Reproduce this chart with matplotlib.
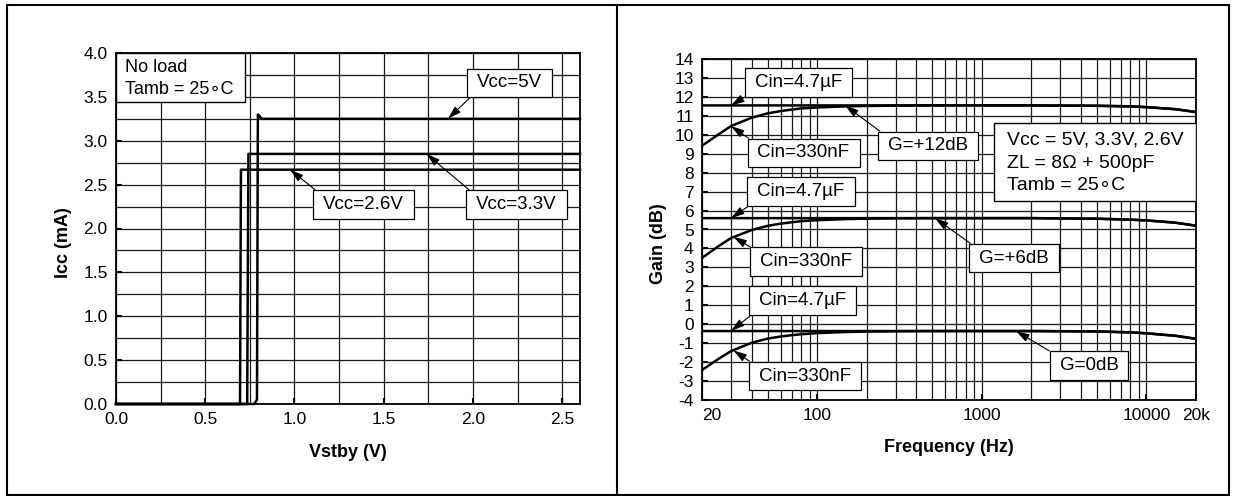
"""Icc vs Vstby and Gain vs Frequency datasheet curves."""
import matplotlib
matplotlib.use('Agg')
import matplotlib.pyplot as plt
from matplotlib.lines import Line2D
from matplotlib.patches import Rectangle
from matplotlib.path import Path
from matplotlib.ticker import FixedLocator

plt.rcParams['font.family'] = ['Liberation Sans', 'DejaVu Sans']

# Left: Icc (mA) vs Vstby (V), one step curve per supply voltage
vstby_26 = [0.0, 0.695, 0.70, 2.6]
icc_26 = [0.0, 0.0, 2.67, 2.67]
vstby_33 = [0.0, 0.735, 0.742, 2.6]
icc_33 = [0.0, 0.0, 2.85, 2.85]
vstby_5 = [0.0, 0.775, 0.79, 0.795, 0.805, 0.815, 2.6]
icc_5 = [0.0, 0.0, 0.05, 3.30, 3.28, 3.25, 3.25]

# Right: gain (dB) vs frequency (Hz), Cin = 4.7uF and 330nF for each gain setting
freq = [20, 25, 30, 40, 50, 60, 70, 80, 100, 150, 200, 300, 500, 1000, 2000,
        5000, 8000, 10000, 15000, 20000]
g12_47u = [11.55, 11.55, 11.55, 11.55, 11.55, 11.55, 11.55, 11.55, 11.55, 11.55,
           11.55, 11.55, 11.55, 11.55, 11.55, 11.53, 11.50, 11.46, 11.35, 11.2]
g12_330n = [9.42, 10.0, 10.46, 10.9, 11.13, 11.25, 11.33, 11.39, 11.44, 11.50,
            11.52, 11.54, 11.55, 11.55, 11.55, 11.53, 11.50, 11.46, 11.35, 11.2]
g6_47u = [5.6, 5.6, 5.6, 5.6, 5.6, 5.6, 5.6, 5.6, 5.6, 5.6,
          5.6, 5.6, 5.6, 5.6, 5.6, 5.57, 5.52, 5.48, 5.36, 5.2]
g6_330n = [3.5, 4.1, 4.55, 4.97, 5.19, 5.31, 5.38, 5.44, 5.49, 5.55,
           5.57, 5.59, 5.6, 5.6, 5.6, 5.57, 5.52, 5.48, 5.36, 5.2]
g0_47u = [-0.36, -0.36, -0.36, -0.36, -0.36, -0.36, -0.36, -0.36, -0.36, -0.36,
          -0.36, -0.36, -0.36, -0.36, -0.36, -0.38, -0.43, -0.48, -0.61, -0.77]
g0_330n = [-2.42, -1.85, -1.42, -0.98, -0.76, -0.65, -0.58, -0.53, -0.47, -0.41,
           -0.39, -0.37, -0.36, -0.36, -0.36, -0.38, -0.43, -0.48, -0.61, -0.77]

freq_ticks = [20, 100, 1000, 10000, 20000]
freq_labels = ['20', '100', '1000', '10000', '20k']
freq_minor = [30, 40, 50, 60, 70, 80, 90, 200, 300, 400, 500, 600, 700, 800, 900,
              2000, 3000, 4000, 5000, 6000, 7000, 8000, 9000]
gain_ticks = list(range(-4, 15))

W, H = 1235, 496
fig = plt.figure(figsize=(W / 100, H / 100), dpi=100)

# frame around the whole picture and divider between the two graphs
lw_frame = 1.5
fig.add_artist(Rectangle((7 / W, 1 - 495 / H), (1229 - 7) / W, (495 - 5) / H,
                         transform=fig.transFigure, fill=False, lw=lw_frame, ec='black'))
fig.add_artist(Line2D([617 / W, 617 / W], [1 - 495 / H, 1 - 5 / H],
                      transform=fig.transFigure, lw=lw_frame, color='black'))

ax1 = fig.add_axes([116 / W, 1 - 404 / H, 464 / W, 351 / H])
ax2 = fig.add_axes([702 / W, 1 - 400 / H, 494 / W, 341 / H])


def label_box(x0, y0, width, height, mutation_size):
    # plain rectangle, wider padding left/right than top/bottom
    px, py = 0.53 * mutation_size, 0.31 * mutation_size
    x0, y0 = x0 - px, y0 - py
    x1, y1 = x0 + width + 2 * px, y0 + height + 2 * py
    return Path([(x0, y0), (x1, y0), (x1, y1), (x0, y1), (x0, y0)], closed=True)


grid_kw = dict(color='#1a1a1a', linewidth=0.9)
box_kw = dict(boxstyle=label_box, fc='white', ec='black', lw=0.9)
fs_tick = 12.5
fs_box = 13.5
fs_label = 13


def arrow(relpos):
    return dict(arrowstyle='-|>,head_length=0.6,head_width=0.18', color='black',
                lw=0.8, relpos=relpos, shrinkA=0, shrinkB=0)


def style_axes(ax):
    for s in ax.spines.values():
        s.set_linewidth(1.3)
    ax.tick_params(which='major', direction='in', length=4, width=1.5,
                   labelsize=fs_tick, pad=6)
    ax.tick_params(which='minor', length=0)
    ax.grid(True, which='both', **grid_kw)
    ax.set_axisbelow(True)


# ---- left graph ----
for xs, ys in [(vstby_26, icc_26), (vstby_33, icc_33), (vstby_5, icc_5)]:
    ax1.plot(xs, ys, color='black', lw=1.8, zorder=3, clip_on=False)
ax1.set_xlim(0, 2.6)
ax1.set_ylim(0, 4.0)
ax1.set_xticks([0, 0.5, 1.0, 1.5, 2.0, 2.5])
ax1.set_xticklabels(['0.0', '0.5', '1.0', '1.5', '2.0', '2.5'])
ax1.set_yticks([0, 0.5, 1.0, 1.5, 2.0, 2.5, 3.0, 3.5, 4.0])
ax1.set_yticklabels(['0.0', '0.5', '1.0', '1.5', '2.0', '2.5', '3.0', '3.5', '4.0'])
ax1.xaxis.set_minor_locator(FixedLocator([0.25, 0.75, 1.25, 1.75, 2.25]))
ax1.yaxis.set_minor_locator(FixedLocator([0.25, 0.75, 1.25, 1.75, 2.25, 2.75, 3.25, 3.75]))
style_axes(ax1)
ax1.text(-0.114, 0.46, 'Icc (mA)', transform=ax1.transAxes, rotation=90,
         ha='center', va='center', fontsize=fs_label, fontweight='bold')
ax1.text(0.5, -0.137, 'Vstby (V)', transform=ax1.transAxes,
         ha='center', va='center', fontsize=fs_label, fontweight='bold')

ax1.add_patch(Rectangle((0, 0.860), 0.278, 0.140, transform=ax1.transAxes,
                        fc='white', ec='black', lw=1.0, zorder=5))
ax1.text(0.019, 0.960, 'No load', transform=ax1.transAxes, ha='left', va='center',
         fontsize=13, zorder=6)
ax1.text(0.019, 0.897, 'Tamb = 25\u2218C', transform=ax1.transAxes, ha='left',
         va='center', fontsize=13, zorder=6)

ax1.annotate('Vcc=5V', xy=(1.86, 3.25), xytext=(2.203, 3.66), ha='center',
             va='center', fontsize=fs_box, bbox=box_kw, arrowprops=arrow((0, 0)), zorder=6)
ax1.annotate('Vcc=2.6V', xy=(0.975, 2.67), xytext=(1.387, 2.273), ha='center',
             va='center', fontsize=fs_box, bbox=box_kw, arrowprops=arrow((0, 1)), zorder=6)
ax1.annotate('Vcc=3.3V', xy=(1.74, 2.85), xytext=(2.245, 2.273), ha='center',
             va='center', fontsize=fs_box, bbox=box_kw, arrowprops=arrow((0, 1)), zorder=6)

# ---- right graph ----
for ys in [g12_47u, g12_330n, g6_47u, g6_330n, g0_47u, g0_330n]:
    ax2.plot(freq, ys, color='black', lw=1.8, zorder=3)
ax2.set_xscale('log')
ax2.set_xlim(20, 20000)
ax2.set_ylim(-4, 14)
ax2.set_xticks(freq_ticks)
ax2.set_xticklabels(freq_labels)
ax2.xaxis.set_minor_locator(FixedLocator(freq_minor))
ax2.xaxis.set_minor_formatter(plt.NullFormatter())
ax2.set_yticks(gain_ticks)
ax2.set_yticklabels([str(v) for v in gain_ticks])
style_axes(ax2)
ax2.get_xticklabels()[0].set_horizontalalignment('left')
ax2.text(-0.089, 0.46, 'Gain (dB)', transform=ax2.transAxes, rotation=90,
         ha='center', va='center', fontsize=fs_label, fontweight='bold')
ax2.text(0.5, -0.138, 'Frequency (Hz)', transform=ax2.transAxes,
         ha='center', va='center', fontsize=fs_label, fontweight='bold')

notes = [
    ('Cin=4.7\u00b5F', (30, 11.55), (77, 12.76), (0, 0)),
    ('Cin=330nF', (30, 10.46), (82.7, 9.04), (0, 1)),
    ('G=+12dB', (148, 11.55), (474, 9.41), (0, 1)),
    ('Cin=4.7\u00b5F', (30, 5.6), (79.8, 7.0), (0, 0)),
    ('Cin=330nF', (31, 4.62), (85.7, 3.31), (0, 1)),
    ('G=+6dB', (520, 5.6), (1570, 3.49), (0, 1)),
    ('Cin=4.7\u00b5F', (30, -0.36), (81.5, 1.25), (0, 0)),
    ('Cin=330nF', (31, -1.38), (84.5, -2.74), (0, 1)),
    ('G=0dB', (1614, -0.36), (4480, -2.18), (0, 1)),
]
for txt, xy, xytext, rp in notes:
    ax2.annotate(txt, xy=xy, xytext=xytext, ha='center', va='center',
                 fontsize=fs_box, bbox=box_kw, arrowprops=arrow(rp), zorder=6)

ax2.add_patch(Rectangle((0.591, 0.584), 0.409, 0.228, transform=ax2.transAxes,
                        fc='white', ec='black', lw=1.0, zorder=5))
for yy, txt in [(0.762, 'Vcc = 5V, 3.3V, 2.6V'), (0.695, 'ZL = 8\u03a9 + 500pF'),
                (0.628, 'Tamb = 25\u2218C')]:
    ax2.text(0.617, yy, txt, transform=ax2.transAxes, ha='left', va='center',
             fontsize=14, zorder=6)

fig.savefig('out.png', dpi=100)
